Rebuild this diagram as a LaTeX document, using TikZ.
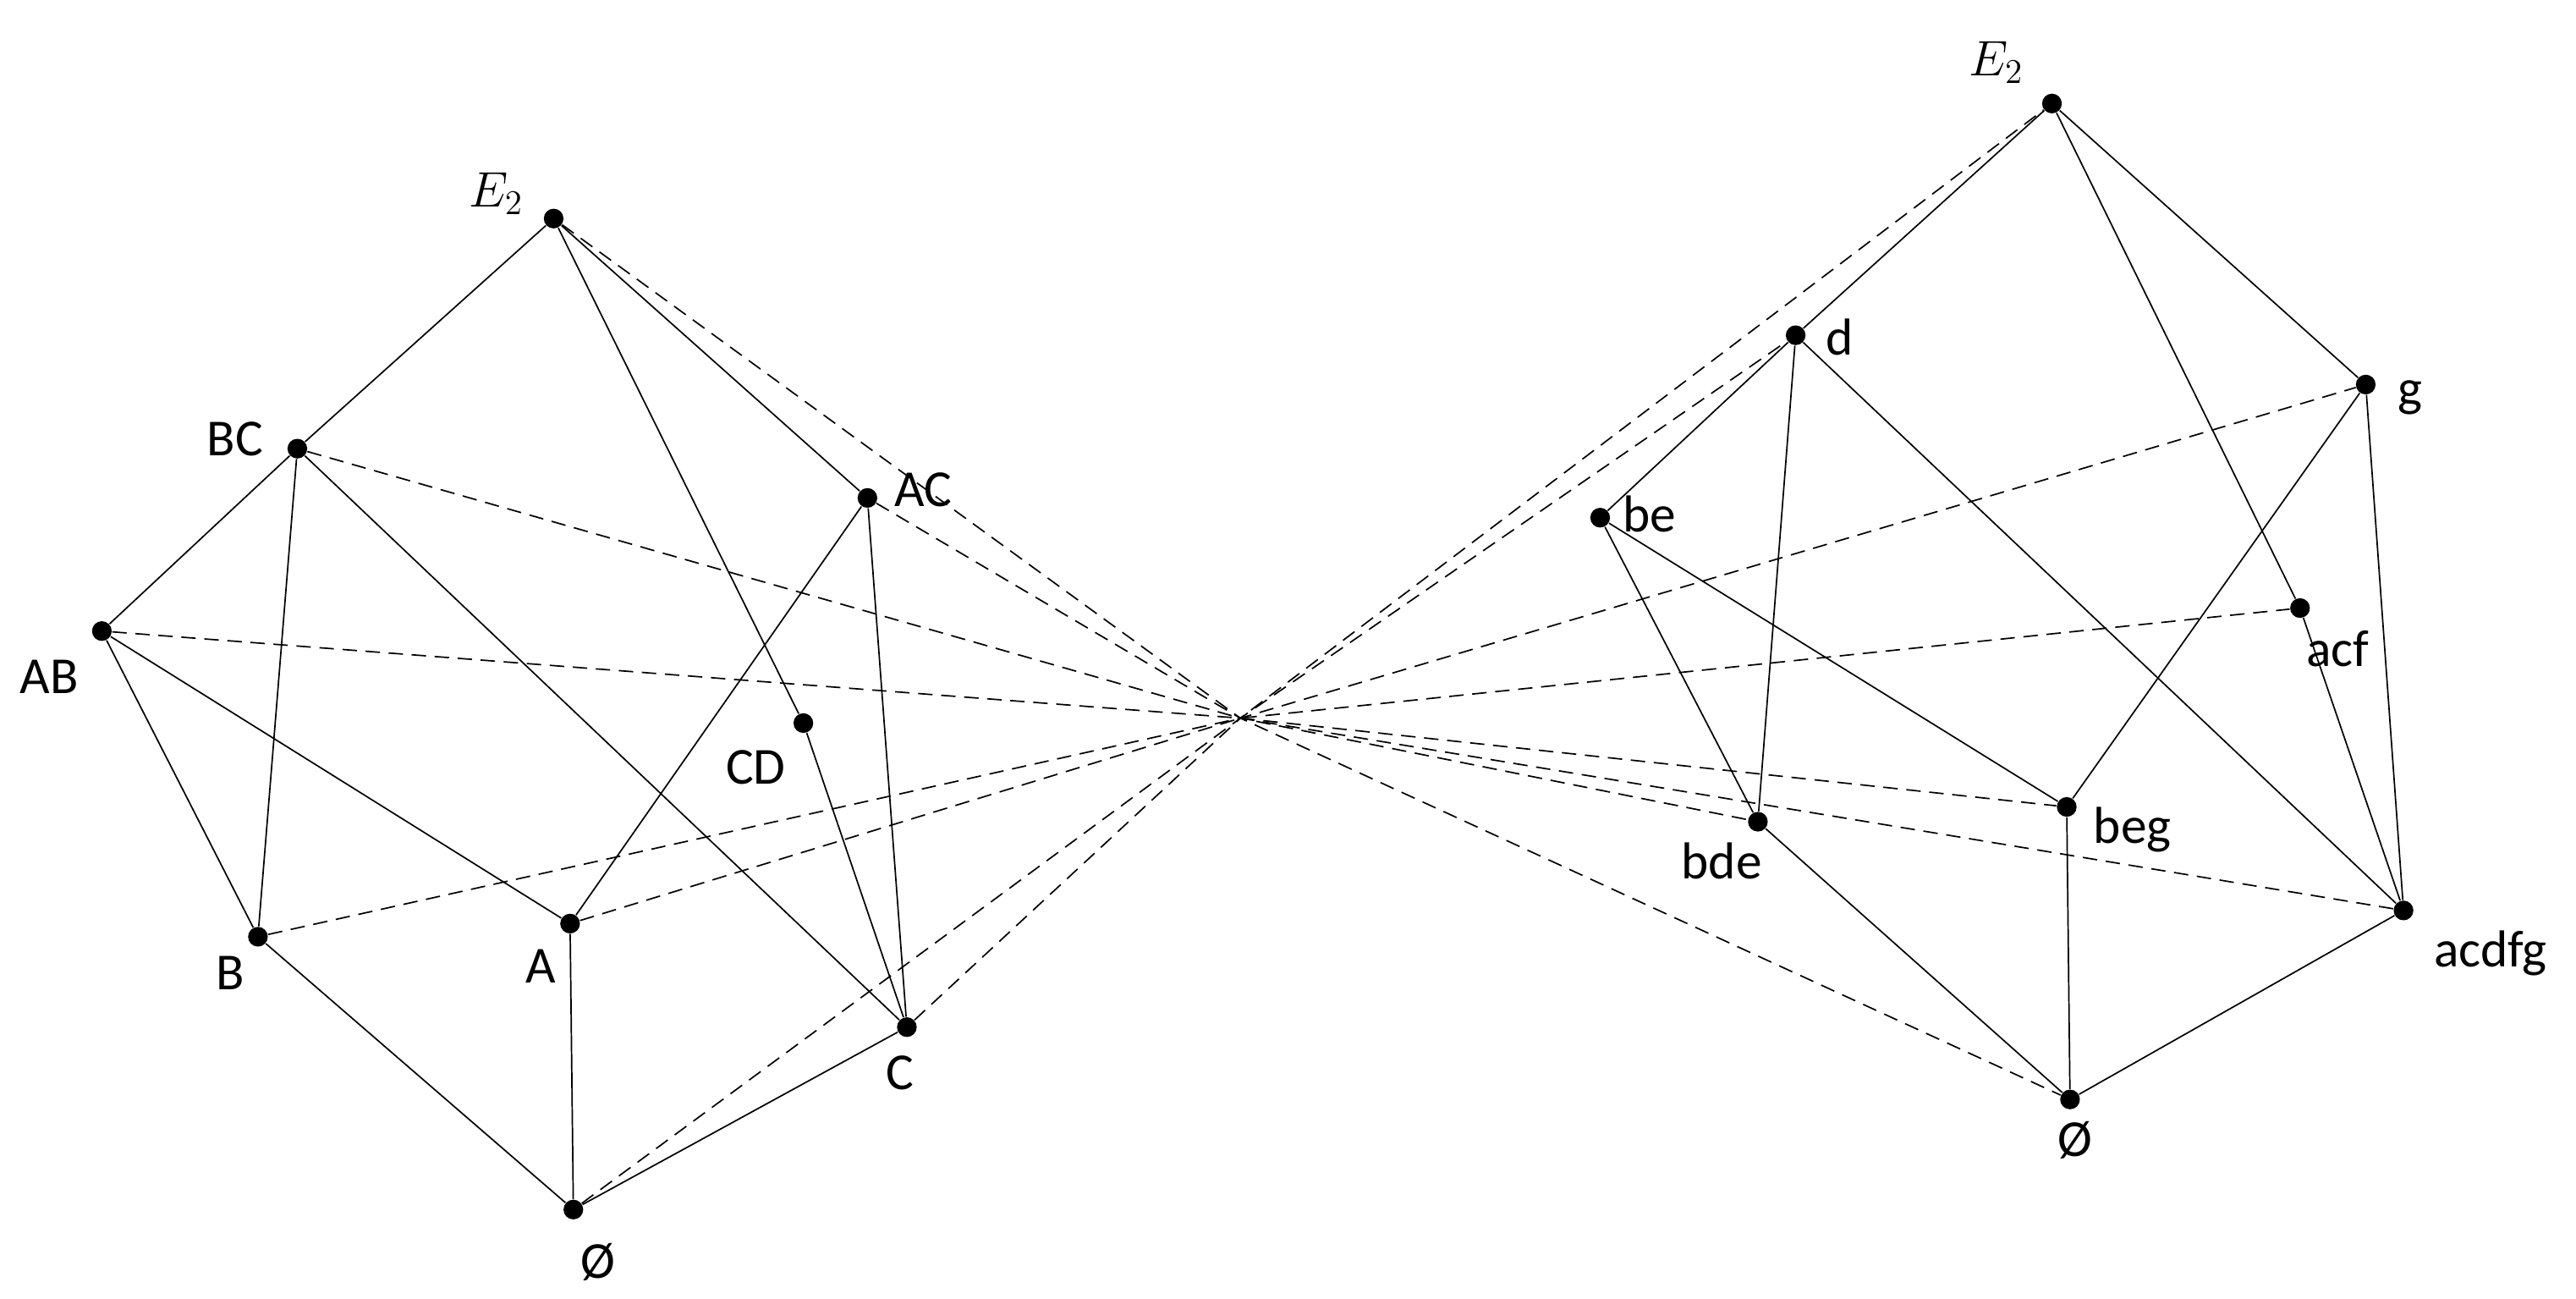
\documentclass[tikz,border=0pt]{standalone}
\usepackage{fontspec}
\setmainfont{Carlito}
\begin{document}
\begin{tikzpicture}[x=0.02cm,y=-0.02cm,
  pt/.style={circle,fill=black,inner sep=0pt,minimum size=0.24cm},
  lab/.style={inner sep=0pt,font=\fontsize{18}{20}\selectfont},
  sol/.style={line width=0.5pt},
  dsh/.style={line width=0.5pt,dash pattern=on 5pt off 3pt}]
\useasboundingbox (0,0) rectangle (1568,790);
% left lattice
\node[pt] (LE) at (337,133) {};
\node[pt] (BC) at (181,273) {};
\node[pt] (AC) at (528,303) {};
\node[pt] (AB) at (62,384) {};
\node[pt] (CD) at (489,440) {};
\node[pt] (B) at (157,570) {};
\node[pt] (A) at (347,562) {};
\node[pt] (C) at (552,625) {};
\node[pt] (L0) at (349,736) {};
\node[lab] at (302,118) {$E_2$};
\node[lab] at (143,267) {BC};
\node[lab] at (562,298) {AC};
\node[lab] at (30,412) {AB};
\node[lab] at (460,467) {CD};
\node[lab] at (140,592) {B};
\node[lab] at (329,588) {A};
\node[lab] at (548,653) {C};
\node[lab] at (364,768) {Ø};
% right lattice
\node[pt] (RE) at (1249,63) {};
\node[pt] (d) at (1093,204) {};
\node[pt] (g) at (1440,234) {};
\node[pt] (be) at (974,315) {};
\node[pt] (acf) at (1400,370) {};
\node[pt] (bde) at (1070,500) {};
\node[pt] (beg) at (1258,491) {};
\node[pt] (acdfg) at (1463,554) {};
\node[pt] (R0) at (1260,669) {};
\node[lab] at (1215,38) {$E_2$};
\node[lab] at (1120,205) {d};
\node[lab] at (1467,242) {g};
\node[lab] at (1004,313) {be};
\node[lab] at (1423,395) {acf};
\node[lab] at (1048,524) {bde};
\node[lab] at (1298,505) {beg};
\node[lab] at (1516,580) {acdfg};
\node[lab] at (1263,694) {Ø};
\coordinate (X) at (755,437);
% solid left
\draw[sol] (LE)--(BC) (LE)--(CD) (CD)--(C) (LE)--(AC) (BC)--(AB) (BC)--(B) (BC)--(C)
  (AB)--(B) (AB)--(A) (AC)--(A) (AC)--(C) (B)--(L0) (A)--(L0) (C)--(L0);
% solid right
\draw[sol] (RE)--(d) (d)--(be) (RE)--(g) (RE)--(acf) (d)--(bde) (d)--(acdfg)
  (be)--(bde) (be)--(beg) (g)--(beg) (g)--(acdfg) (acf)--(acdfg)
  (bde)--(R0) (beg)--(R0) (acdfg)--(R0);
% dashed
\draw[dsh] (LE)--(X)--(R0);
\draw[dsh] (AC)--(X)--(bde);
\draw[dsh] (BC)--(X)--(acdfg);
\draw[dsh] (AB)--(X)--(beg);
\draw[dsh] (B)--(X)--(g);
\draw[dsh] (A)--(X)--(acf);
\draw[dsh] (C)--(X)--(d);
\draw[dsh] (L0)--(X)--(RE);
\end{tikzpicture}
\end{document}
